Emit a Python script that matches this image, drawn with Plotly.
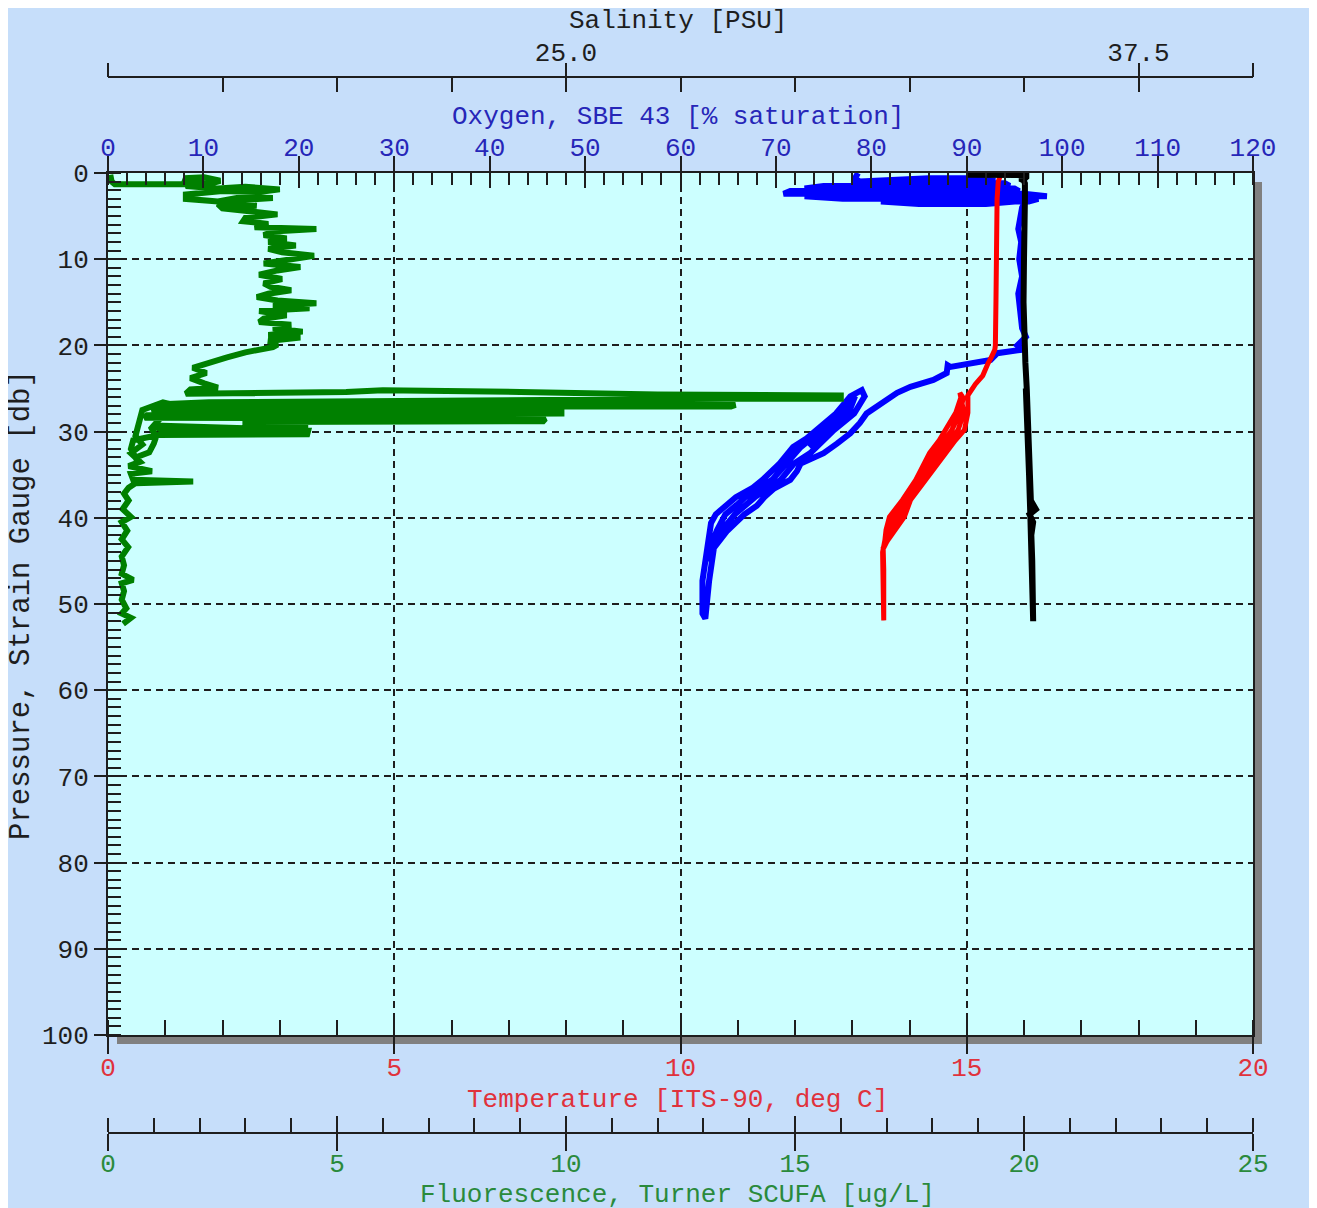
import plotly.graph_objects as go

# ---------------- data ----------------
# Fluorescence, Turner SCUFA [ug/L] vs pressure [db]
fluor_pres = [0.2, 1.0, 1.3, 1.35, 1.3, 0.6, 0.5, 0.9, 1.3, 1.0, 1.5, 1.8, 1.6, 1.9, 2.2, 2.1,
              2.5, 3.0, 3.3, 2.8, 2.9, 3.1, 3.5, 3.8, 3.6, 4.1, 4.4, 4.8, 5.2, 5.6, 5.9, 6.3,
              6.5, 6.8, 7.2, 7.6, 8.0, 8.4, 8.8, 9.2, 9.6, 10.0, 10.5, 10.9, 11.3, 11.8, 12.3,
              12.8, 13.2, 13.6, 14.0, 14.4, 14.8, 15.1, 15.4, 15.7, 16.0, 16.5, 16.9, 17.3,
              17.6, 18.0, 18.4, 18.8, 19.1, 19.5, 19.9, 20.2, 20.8,
              21.4, 22.1, 22.6, 23.2, 23.8, 24.4, 24.9, 25.1, 25.6, 25.4, 25.2, 25.4, 25.7,
              25.8, 26.2, 26.2, 26.4, 26.6, 26.8, 26.8, 26.9, 27.1, 27.1, 27.0, 27.4, 27.6,
              27.6, 27.9, 28.0, 28.1, 28.4, 28.5, 28.8, 28.9, 29.2, 29.4, 29.6, 29.3, 29.9,
              29.9, 30.3, 30.4, 31.0, 32.0, 33.0, 32.4, 31.4, 30.6, 29.6, 28.6, 27.8, 27.0,
              26.6, 27.5, 28.5, 29.5, 30.5, 31.5, 32.5, 33.5, 34.0, 34.6, 34.9, 35.6, 35.8,
              36.0, 36.5, 37.2, 38.0, 39.0, 39.9, 40.5, 41.5, 42.5, 43.4, 44.5, 45.5, 46.5,
              47.2, 47.6, 48.5, 49.5, 50.5, 51.1, 51.6, 52.3]
fluor_vals = [0.05, 0.08, 0.15, 1.0, 1.65, 1.7, 2.1, 2.45, 2.2, 1.8, 1.7, 2.4, 3.0, 3.75, 3.3, 2.5,
              1.7, 1.7, 2.4, 2.9, 3.6, 3.0, 2.6, 3.25, 2.4, 2.5, 3.0, 3.7, 3.0, 2.95, 3.5, 3.2,
              4.55, 3.6, 3.4, 3.9, 3.5, 4.1, 3.5, 3.8, 4.5, 3.9, 3.4, 4.2, 3.7, 3.3, 3.8,
              3.4, 3.55, 4.0, 3.5, 3.25, 3.7, 4.55, 3.6, 4.4, 3.3, 3.9, 3.4, 3.3,
              4.0, 3.6, 4.25, 3.5, 4.2, 3.5, 3.7, 3.6, 3.0,
              2.6, 2.15, 1.85, 2.15, 1.8, 2.1, 2.4, 1.8, 1.7, 5.2, 6.0, 9.0, 12.0,
              16.0, 16.0, 13.5, 6.0, 2.2, 1.3, 2.35, 13.7, 13.6, 5.0, 1.1, 0.95, 2.5,
              9.9, 9.9, 4.0, 0.85, 0.8, 9.55, 9.5, 3.0, 3.0, 4.37, 3.0, 1.0, 1.2,
              4.37, 4.35, 1.1, 0.55, 0.5, 0.6, 0.9, 1.0, 1.05, 0.95, 1.1, 1.25, 1.5,
              1.2, 0.75, 0.7, 0.65, 0.6, 0.75, 0.5, 0.7, 0.45, 0.96, 0.5, 0.55, 1.86,
              0.6, 0.45, 0.35, 0.45, 0.32, 0.5, 0.3, 0.42, 0.3, 0.44, 0.3, 0.35, 0.3,
              0.55, 0.3, 0.35, 0.3, 0.4, 0.3, 0.5, 0.33]

# Oxygen, SBE 43 [% saturation] vs pressure [db]
oxy_pres = [0.0, 0.6, 1.0, 0.6, 0.6, 0.9, 0.9, 1.2, 1.2, 1.5, 1.5, 1.8, 1.8, 2.1, 2.1, 2.4,
            2.4, 2.7, 2.7, 3.0, 3.0, 3.3, 3.3, 3.6, 3.6, 3.2, 4.0,
            5.0, 6.5, 8.0, 10.0, 12.0, 14.0, 16.0, 18.0, 19.0, 19.5, 20.0, 20.5, 20.9, 21.7,
            22.1, 22.5, 22.3, 23.2, 24.0, 24.8, 25.5, 26.3, 27.9, 29.0, 30.2, 31.4, 32.5,
            33.7, 34.6, 35.6, 36.6, 37.6, 38.6, 39.6, 41.5, 43.5, 47.3, 51.7,
            51.1, 47.3, 43.5, 41.5, 40.6, 39.6, 37.6, 36.5, 35.6, 33.7, 31.8, 30.8, 29.8,
            27.9, 25.9, 25.2,
            25.9, 27.9, 29.8, 31.8, 32.5, 33.7, 35.6, 37.6, 39.6, 41.5, 43.5, 45.0,
            43.5, 41.5, 39.6, 38.5, 37.6, 35.6, 33.7, 31.8, 29.8, 27.9, 25.9,
            27.9, 29.8, 31.8]
oxy_vals = [78.6, 78.3, 78.8, 86.0, 91.0, 93.0, 81.0, 78.0, 94.0, 94.5, 75.0, 73.0, 95.0, 95.5, 71.5, 70.8,
            96.0, 98.4, 73.0, 77.0, 97.5, 96.5, 81.0, 85.0, 92.0, 96.2, 95.8,
            95.7, 95.4, 95.7, 95.5, 95.8, 95.4, 95.6, 95.8, 96.2, 95.8, 95.3, 95.8, 93.2, 92.5,
            90.4, 88.3, 88.0, 87.9, 86.5, 84.1, 82.7, 81.6, 79.5, 78.8, 77.8, 76.4, 75.0,
            72.6, 72.2, 71.5, 69.8, 68.8, 68.0, 66.7, 64.9, 63.5, 63.0, 62.6,
            62.3, 62.3, 62.9, 63.2, 63.2, 63.7, 65.8, 67.6, 68.6, 70.4, 71.8, 73.2, 74.2,
            76.3, 77.8, 79.0,
            79.3, 78.2, 76.1, 74.3, 73.6, 71.9, 70.5, 67.8, 65.7, 64.3, 63.3, 63.0,
            63.1, 63.8, 64.7, 65.9, 66.8, 69.6, 71.1, 72.6, 74.8, 76.9, 78.3,
            77.6, 75.5, 73.5]

# Temperature [ITS-90, deg C] vs pressure [db]
temp_pres = [0.4, 1.0, 3.0, 6.0, 10.0, 15.0, 20.0, 20.5, 21.5, 22.1, 23.5, 24.5,
             25.8, 27.8, 29.8, 31.0, 32.5, 34.0, 35.6, 37.9, 39.9, 41.4, 42.6, 43.5, 46.0, 51.9,
             48.0, 44.0, 42.6, 41.4, 39.9, 37.9, 35.6, 34.0, 32.5, 31.0, 29.8, 27.8, 25.8, 25.5,
             27.8, 29.8, 31.0, 32.5, 34.0, 35.6, 37.9, 39.9, 41.4, 42.6, 43.5,
             42.6, 41.4, 39.9, 37.9, 35.6, 34.0, 32.5, 31.0, 29.8, 27.8, 25.8]
temp_vals = [15.58, 15.55, 15.53, 15.53, 15.52, 15.51, 15.50, 15.49, 15.42, 15.37, 15.28, 15.15,
             15.02, 15.02, 14.96, 14.80, 14.63, 14.46, 14.26, 14.02, 13.91, 13.74, 13.62, 13.54, 13.55, 13.55,
             13.53, 13.53, 13.57, 13.59, 13.65, 13.88, 14.11, 14.23, 14.35, 14.52, 14.63, 14.81, 14.91, 14.88,
             14.95, 14.85, 14.71, 14.54, 14.38, 14.21, 13.97, 13.82, 13.69, 13.60, 13.55,
             13.59, 13.64, 13.74, 13.93, 14.16, 14.31, 14.44, 14.61, 14.74, 14.88, 14.95]

# Salinity [PSU] vs pressure [db]
sal_pres = [0.2, 0.25, 0.5, 1.0, 0.4, 1.2, 3.0, 6.0, 10.0, 15.0, 20.0, 22.0, 25.0, 28.0, 30.0,
            33.0, 36.0, 38.0, 39.0, 39.6, 40.5, 42.0, 45.0, 48.0, 52.0,
            48.0, 44.0, 40.0, 35.0, 30.0, 25.0]
sal_vals = [33.75, 35.05, 35.05, 34.95, 34.95, 35.02, 35.02, 35.00, 35.00, 34.99, 35.00, 35.03,
            35.06, 35.08, 35.09, 35.12, 35.13, 35.15, 35.26, 35.12, 35.20, 35.16, 35.18, 35.19,
            35.20, 35.17, 35.16, 35.14, 35.11, 35.07, 35.04]

# axis ranges and ticks
pres_range = [100, 0]
temp_range = [0, 20]
oxy_range = [0, 120]
sal_range = [15, 40]
fluor_range = [0, 25]
sal_minor_ticks = [15, 17.5, 20, 22.5, 25, 27.5, 30, 32.5, 35, 37.5, 40]
sal_major_ticks = [15, 25, 37.5, 40]
sal_major_text = ["", "25.0", "37.5", ""]

# ---------------- styling / geometry ----------------
W, H = 1302, 1230
ML, MR = 100, 57
TOP_PX, BOT_PX = 165, 1027      # plot area (figure px)
SAL_PX, FLU_PX = 69, 1125       # free axis lines (figure px)


def ypap(px):
    return 1 - px / H


FONT = "Liberation Mono, Courier New, monospace"
FS = 26
INK = "#1e1e1e"
C_OXY_TXT = "#2626b8"
C_TMP_TXT = "#e0323c"
C_FLU_TXT = "#2a8a3c"
PAPER = "#c6defa"
PLOTBG = "#ccffff"
GRID_DASH = "7px,5px"

fig = go.Figure()

# empty traces so that every decorative axis gets a subplot and is drawn
for ax in ["x", "x3", "x5", "x6", "x7"]:
    fig.add_trace(go.Scatter(x=[], y=[], xaxis=ax, yaxis="y", mode="lines",
                             hoverinfo="skip", showlegend=False))

fig.add_trace(go.Scatter(x=fluor_vals, y=fluor_pres, xaxis="x4", yaxis="y", mode="lines",
                         line=dict(color="#008000", width=6), name="Fluorescence"))
fig.add_trace(go.Scatter(x=oxy_vals, y=oxy_pres, xaxis="x2", yaxis="y", mode="lines",
                         line=dict(color="#0000ff", width=6), name="Oxygen"))
fig.add_trace(go.Scatter(x=temp_vals, y=temp_pres, xaxis="x8", yaxis="y", mode="lines",
                         line=dict(color="#ff0000", width=5), name="Temperature"))
fig.add_trace(go.Scatter(x=sal_vals, y=sal_pres, xaxis="x9", yaxis="y", mode="lines",
                         line=dict(color="#000000", width=6), name="Salinity"))

tick_common = dict(tickwidth=2, tickcolor=INK, zeroline=False, fixedrange=True, type="linear")

layout = dict(
    width=W, height=H, template="none",
    margin=dict(l=ML, r=MR, t=0, b=0, pad=0),
    paper_bgcolor=PAPER, plot_bgcolor="rgba(0,0,0,0)",
    showlegend=False,
    font=dict(family=FONT, size=FS, color=INK),
    yaxis=dict(domain=[ypap(BOT_PX), ypap(TOP_PX)], range=pres_range, autorange=False,
               tickmode="linear", tick0=0, dtick=10, ticks="outside", ticklen=12,
               showline=True, linewidth=2, linecolor=INK, mirror=True,
               showgrid=True, gridcolor=INK, gridwidth=2, griddash=GRID_DASH,
               minor=dict(ticks="inside", ticklen=13, tickwidth=2, tickcolor=INK,
                          tickmode="linear", tick0=0, dtick=1, showgrid=False),
               tickfont=dict(color=INK, size=FS), automargin=False, **tick_common),
    xaxis=dict(domain=[0, 1], range=temp_range, anchor="y", side="bottom",
               tickmode="linear", tick0=0, dtick=5, ticks="outside", ticklen=17,
               ticklabelstandoff=-9,
               showline=True, linewidth=2, linecolor=INK,
               showgrid=True, gridcolor=INK, gridwidth=2, griddash=GRID_DASH,
               minor=dict(ticks="inside", ticklen=15, tickwidth=2, tickcolor=INK,
                          tickmode="linear", tick0=0, dtick=1, showgrid=False),
               tickfont=dict(color=C_TMP_TXT, size=FS), automargin=False, **tick_common),
    xaxis2=dict(overlaying="x", range=oxy_range, anchor="y", side="top",
                tickmode="linear", tick0=0, dtick=10, ticks="outside", ticklen=15,
                ticklabelstandoff=-10,
                showline=True, linewidth=2, linecolor=INK, showgrid=False,
                minor=dict(ticks="inside", ticklen=12, tickwidth=2, tickcolor=INK,
                           tickmode="linear", tick0=0, dtick=2, showgrid=False),
                tickfont=dict(color=C_OXY_TXT, size=FS), automargin=False, **tick_common),
    xaxis5=dict(overlaying="x", range=oxy_range, anchor="y", side="top",
                tickmode="linear", tick0=0, dtick=10, ticks="inside", ticklen=15,
                showticklabels=False, showline=False, showgrid=False, automargin=False,
                **tick_common),
    xaxis3=dict(overlaying="x", range=sal_range, anchor="free", position=ypap(SAL_PX), side="top",
                tickmode="array", tickvals=sal_minor_ticks, ticks="inside", ticklen=14,
                showticklabels=False, showline=True, linewidth=2, linecolor=INK,
                showgrid=False, automargin=False, **tick_common),
    xaxis6=dict(overlaying="x", range=sal_range, anchor="free", position=ypap(SAL_PX), side="top",
                tickmode="array", tickvals=sal_major_ticks, ticktext=sal_major_text,
                ticks="outside", ticklen=14, ticklabelstandoff=-8,
                showline=False, showgrid=False,
                tickfont=dict(color=INK, size=FS), automargin=False, **tick_common),
    xaxis4=dict(overlaying="x", range=fluor_range, anchor="free", position=ypap(FLU_PX), side="bottom",
                tickmode="linear", tick0=0, dtick=5, ticks="outside", ticklen=17,
                ticklabelstandoff=-10,
                showline=True, linewidth=2, linecolor=INK, showgrid=False,
                minor=dict(ticks="inside", ticklen=14, tickwidth=2, tickcolor=INK,
                           tickmode="linear", tick0=0, dtick=1, showgrid=False),
                tickfont=dict(color=C_FLU_TXT, size=FS), automargin=False, **tick_common),
    xaxis7=dict(overlaying="x", range=fluor_range, anchor="free", position=ypap(FLU_PX), side="bottom",
                tickmode="linear", tick0=0, dtick=5, ticks="inside", ticklen=17,
                showticklabels=False, showline=False, showgrid=False, automargin=False,
                **tick_common),
    xaxis8=dict(overlaying="x", range=temp_range, anchor="y", visible=False, fixedrange=True),
    xaxis9=dict(overlaying="x", range=sal_range, anchor="y", visible=False, fixedrange=True),
)
fig.update_layout(**layout)

# drop shadow + plot background
fig.add_shape(type="rect", xref="paper", yref="paper", layer="below",
              x0=9 / (W - ML - MR), x1=1 + 9 / (W - ML - MR),
              y0=ypap(BOT_PX + 9), y1=ypap(TOP_PX + 9),
              fillcolor="#808080", line=dict(width=0))
fig.add_shape(type="rect", xref="paper", yref="paper", layer="below",
              x0=0, x1=1, y0=ypap(BOT_PX), y1=ypap(TOP_PX),
              fillcolor=PLOTBG, line=dict(width=0))

# axis titles
XC = 0.4975
titles = [
    ("Salinity [PSU]", 13, INK),
    ("Oxygen, SBE 43 [% saturation]", 109, C_OXY_TXT),
    ("Temperature [ITS-90, deg C]", 1092, C_TMP_TXT),
    ("Fluorescence, Turner SCUFA [ug/L]", 1187, C_FLU_TXT),
]
for txt, ypx, col in titles:
    fig.add_annotation(text=txt, xref="paper", yref="paper", x=XC, y=ypap(ypx),
                       xanchor="center", yanchor="middle", showarrow=False,
                       font=dict(family=FONT, size=FS, color=col))
fig.add_annotation(text="Pressure, Strain Gauge [db]", xref="paper", yref="paper",
                   x=(13 - ML) / (W - ML - MR), y=ypap(597), textangle=-90,
                   xanchor="center", yanchor="middle", showarrow=False,
                   font=dict(family=FONT, size=29, color=INK))

fig.write_html("out.html")
